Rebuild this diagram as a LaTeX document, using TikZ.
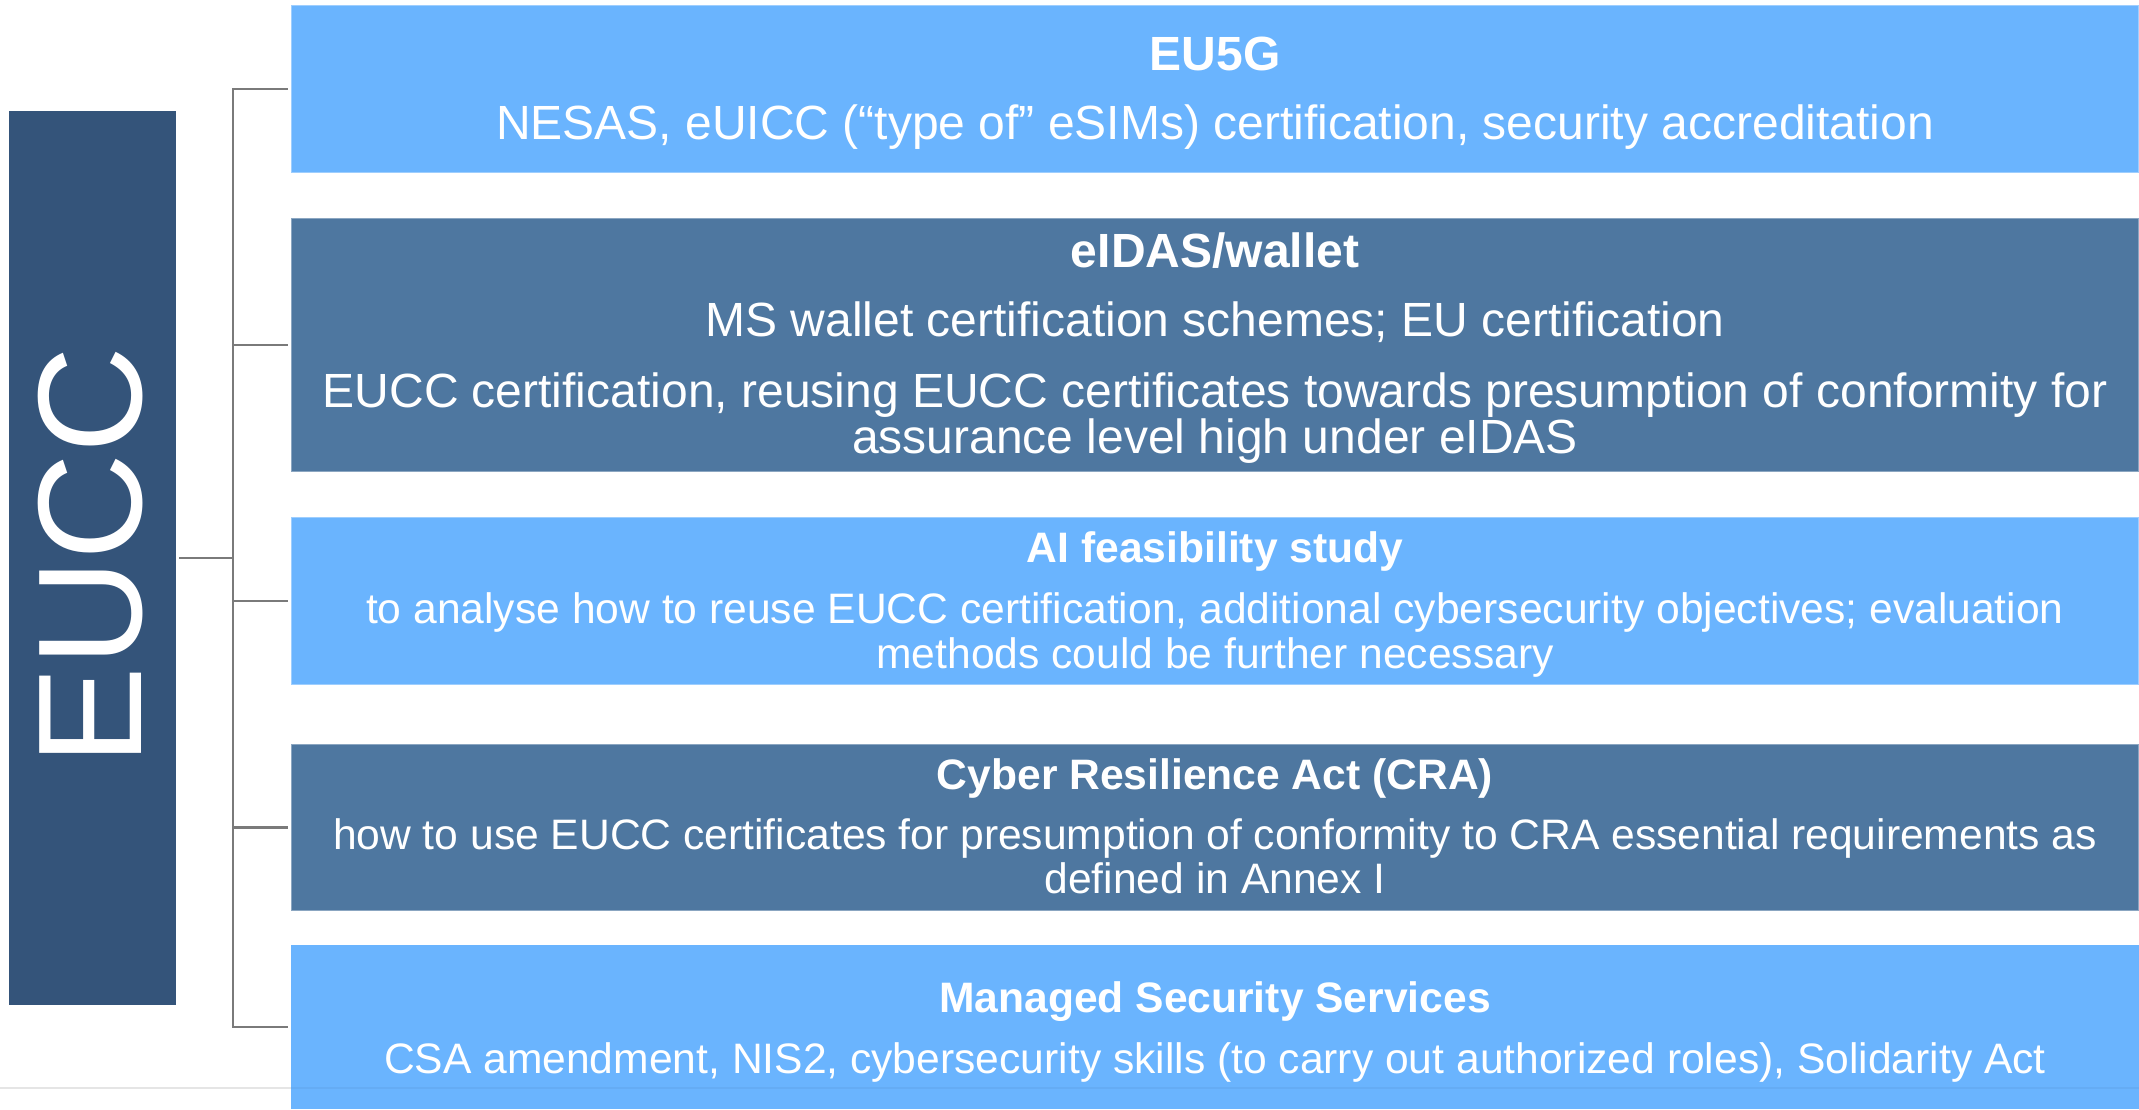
\documentclass[tikz,border=0pt]{standalone}
\usepackage{fontspec}
\setmainfont{Liberation Sans}
\definecolor{lightbox}{HTML}{6AB4FE}
\definecolor{midbox}{HTML}{4E77A0}
\definecolor{darkbox}{HTML}{34547A}
\definecolor{brack}{HTML}{7A7A7A}
\tikzset{
  panel/.style={anchor=north west, inner sep=0pt, outer sep=0pt, minimum width=924pt, draw=white, draw opacity=0.35, line width=0.6pt},
  ttl/.style={anchor=base, inner sep=0pt, text=white, font=\fontsize{24}{24}\selectfont\bfseries},
  ttls/.style={anchor=base, inner sep=0pt, text=white, font=\fontsize{21.3}{21.3}\selectfont\bfseries},
  bod/.style={anchor=base, inner sep=0pt, text=white, font=\fontsize{24}{24}\selectfont},
  bods/.style={anchor=base, inner sep=0pt, text=white, font=\fontsize{21.3}{21.3}\selectfont},
  conn/.style={draw=brack, line width=1.45pt}
}
\begin{document}
\begin{tikzpicture}[x=0.5pt,y=-0.5pt]
\useasboundingbox (0,0) rectangle (2139,1109);
\fill[white] (0,0) rectangle (2139,1109);
% left EUCC box
\node[anchor=north west, inner sep=0pt, outer sep=0pt, fill=darkbox, minimum width=83.5pt, minimum height=447pt] (eucc) at (9,111) {};
\node[anchor=base, rotate=90, inner sep=0pt, text=white, font=\fontsize{74}{74}\selectfont] (euccl) at (141,556) {EUCC};
% panels
\node[panel, fill=lightbox, minimum height=84pt] (b1) at (291,5) {};
\node[panel, fill=midbox, minimum height=127pt] (b2) at (291,218) {};
\node[panel, fill=lightbox, minimum height=84pt] (b3) at (291,517) {};
\node[panel, fill=midbox, minimum height=83.5pt] (b4) at (291,744) {};
\node[inner sep=0pt, outer sep=0pt, anchor=north west, fill=lightbox, minimum width=924pt, minimum height=82pt] (b5) at (291,945) {};
% texts
\node[ttl] (t1) at (1215,70) {EU5G};
\node[bod] (t1a) at (1215,139) {NESAS, eUICC (“type of” eSIMs) certification, security accreditation};
\node[ttl] (t2) at (1215,267) {eIDAS/wallet};
\node[bod] (t2a) at (1215,336) {MS wallet certification schemes; EU certification};
\node[bod] (t2b) at (1215,407) {EUCC certification, reusing EUCC certificates towards presumption of conformity for};
\node[bod] (t2c) at (1215,453) {assurance level high under eIDAS};
\node[ttls] (t3) at (1215,562) {AI feasibility study};
\node[bods] (t3a) at (1215,623) {to analyse how to reuse EUCC certification, additional cybersecurity objectives; evaluation};
\node[bods] (t3b) at (1215,668) {methods could be further necessary};
\node[ttls] (t4) at (1215,789) {Cyber Resilience Act (CRA)};
\node[bods] (t4a) at (1215,849) {how to use EUCC certificates for presumption of conformity to CRA essential requirements as};
\node[bods] (t4b) at (1215,893) {defined in Annex I};
\node[ttls] (t5) at (1215,1012) {Managed Security Services};
\node[bods] (t5a) at (1215,1073) {CSA amendment, NIS2, cybersecurity skills (to carry out authorized roles), Solidarity Act};
% connectors
\coordinate (hub) at (233,558);
\draw[conn] (eucc.east) ++(3,0) -- (hub);
\draw[conn, shorten >=1.5pt] (hub) |- (b1.west);
\draw[conn, shorten >=1.5pt] (hub) |- (b2.west);
\draw[conn, shorten >=1.5pt] (hub) |- (b3.west);
\draw[conn, shorten >=1.5pt] (hub) |- (b4.west);
\draw[conn, shorten >=1.5pt] (hub) |- (b5.west);
% faint bottom rule
\coordinate (rl) at (0,1088);
\coordinate (rr) at (2139,1088);
\draw[black!10, line width=1pt] (rl) -- (b5.west |- rl);
\draw[black, opacity=0.04, line width=1pt] (b5.west |- rl) -- (rr);
\end{tikzpicture}
\end{document}
